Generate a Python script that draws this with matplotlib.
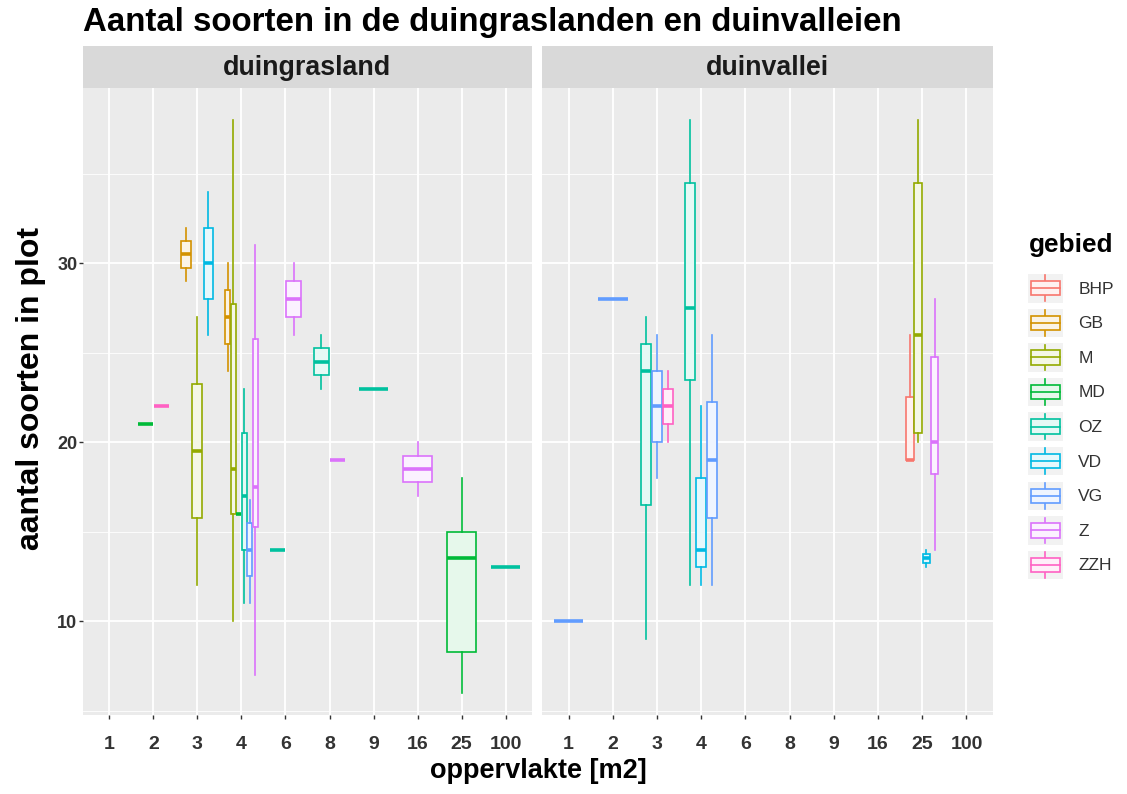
import matplotlib
matplotlib.use("Agg")
import matplotlib.pyplot as plt
from matplotlib.colors import to_rgb
from matplotlib.patches import Patch, Rectangle
from matplotlib.lines import Line2D
from matplotlib.legend_handler import HandlerBase

plt.rcParams['font.family'] = ['Liberation Sans', 'DejaVu Sans']

# factor levels
gebieden = ['BHP', 'GB', 'M', 'MD', 'OZ', 'VD', 'VG', 'Z', 'ZZH']
kleuren = ['#F8766D', '#D39200', '#93AA00', '#00BA38', '#00C19F',
           '#00B9E3', '#619CFF', '#DB72FB', '#FF61C3']
opp_labels = ['1', '2', '3', '4', '6', '8', '9', '16', '25', '100']
panels = ['duingrasland', 'duinvallei']

# one row per box: panel, oppervlakte, gebied + five number summary
panel = ['duingrasland'] * 19 + ['duinvallei'] * 12
opp = ['2', '2', '3', '3', '3', '4', '4', '4', '4', '4', '4', '6', '6', '8', '8', '9', '16', '25', '100',
       '1', '2', '3', '3', '3', '4', '4', '4', '25', '25', '25', '25']
gebied = ['MD', 'ZZH', 'GB', 'M', 'VD', 'GB', 'M', 'MD', 'OZ', 'VG', 'Z', 'OZ', 'Z', 'OZ', 'Z', 'OZ', 'Z', 'MD', 'OZ',
          'VG', 'VG', 'OZ', 'VG', 'ZZH', 'OZ', 'VD', 'VG', 'BHP', 'M', 'VD', 'Z']
ondergrens = [21, 22, 29, 12, 26, 24, 10, 16, 11, 11, 7, 14, 26, 23, 19, 23, 17, 6, 13,
              10, 28, 9, 18, 20, 12, 12, 12, 19, 20, 13, 14]
q1 = [21, 22, 29.75, 15.75, 28, 25.5, 16, 16, 14, 12.5, 15.25, 14, 27, 23.75, 19, 23, 17.75, 8.25, 13,
      10, 28, 16.5, 20, 21, 23.5, 13, 15.75, 19, 20.5, 13.25, 18.25]
mediaan = [21, 22, 30.5, 19.5, 30, 27, 18.5, 16, 17, 14, 17.5, 14, 28, 24.5, 19, 23, 18.5, 13.5, 13,
           10, 28, 24, 22, 22, 27.5, 14, 19, 19, 26, 13.5, 20]
q3 = [21, 22, 31.25, 23.25, 32, 28.5, 27.75, 16, 20.5, 15.5, 25.75, 14, 29, 25.25, 19, 23, 19.25, 15, 13,
      10, 28, 25.5, 24, 23, 34.5, 18, 22.25, 22.5, 34.5, 13.75, 24.75]
bovengrens = [21, 22, 32, 27, 34, 30, 38, 16, 23, 16.75, 31, 14, 30, 26, 19, 23, 20, 18, 13,
              10, 28, 27, 26, 24, 38, 22, 26, 26, 38, 14, 28]

W, H = 1127, 794
fig = plt.figure(figsize=(W / 100, H / 100), dpi=100)
fig.patch.set_facecolor('white')


def licht(c, f=0.1):
    r, g, b = to_rgb(c)
    return (1 - f + f * r, 1 - f + f * g, 1 - f + f * b)


panel_x = {'duingrasland': (83, 449), 'duinvallei': (542, 451)}
axes = {}
for p in panels:
    x0, w = panel_x[p]
    ax = fig.add_axes([x0 / W, (H - 715) / H, w / W, 627 / H])
    ax.set_facecolor('#EBEBEB')
    ax.set_xlim(-0.6, len(opp_labels) - 0.4)
    ax.set_ylim(4.75, 39.8)
    ax.set_yticks([10, 20, 30])
    ax.set_yticks([5, 15, 25, 35], minor=True)
    ax.set_xticks(range(len(opp_labels)))
    ax.set_xticklabels(opp_labels, fontsize=14, fontweight='bold', color='#333333')
    ax.grid(True, which='major', color='white', lw=1.3)
    ax.grid(True, which='minor', axis='y', color='white', lw=0.6)
    ax.set_axisbelow(True)
    for s in ax.spines.values():
        s.set_visible(False)
    ax.tick_params(which='major', length=3, width=1, color='#333333')
    ax.tick_params(axis='x', pad=12)
    ax.tick_params(axis='y', pad=1)
    ax.tick_params(which='minor', length=0)
    if p == 'duingrasland':
        ax.set_yticklabels(['10', '20', '30'], fontsize=13, fontweight='bold', color='#333333')
    else:
        ax.tick_params(axis='y', length=0, labelleft=False)
    axes[p] = ax

    # facet strip
    sx = fig.add_axes([x0 / W, (H - 88) / H, w / W, 42 / H])
    sx.set_facecolor('#D9D9D9')
    sx.set_xticks([])
    sx.set_yticks([])
    for s in sx.spines.values():
        s.set_visible(False)
    sx.text(0.5, 0.47, p, transform=sx.transAxes, ha='center', va='center',
            fontsize=19.3, fontweight='bold', color='#1A1A1A')

# dodge boxes within each x position
for i in range(len(panel)):
    groep = sorted([gebied[j] for j in range(len(panel))
                    if panel[j] == panel[i] and opp[j] == opp[i]], key=gebieden.index)
    n = len(groep)
    k = groep.index(gebied[i])
    slot = 0.75 / n
    pos = opp_labels.index(opp[i]) - 0.375 + (k + 0.5) * slot
    kleur = kleuren[gebieden.index(gebied[i])]
    stats = [dict(whislo=ondergrens[i], q1=q1[i], med=mediaan[i], q3=q3[i],
                  whishi=bovengrens[i], fliers=[])]
    axes[panel[i]].bxp(stats, positions=[pos], widths=[slot * 0.9], patch_artist=True,
                       showcaps=False, manage_ticks=False,
                       boxprops=dict(facecolor=licht(kleur), edgecolor=kleur, lw=1.2),
                       medianprops=dict(color=kleur, lw=2.6, solid_capstyle='butt'),
                       whiskerprops=dict(color=kleur, lw=1.2))

fig.text(83 / W, 1 - 23 / H, 'Aantal soorten in de duingraslanden en duinvalleien',
         fontsize=23.8, fontweight='bold', va='center', ha='left', color='black')
fig.text(538 / W, 1 - 771 / H, 'oppervlakte [m2]', fontsize=19.5, fontweight='bold',
         ha='center', va='center', color='black')
fig.text(31 / W, 1 - 389 / H, 'aantal soorten in plot', fontsize=23, fontweight='bold',
         ha='center', va='center', rotation=90, color='black')


class BoxKey(HandlerBase):
    def create_artists(self, legend, orig, xd, yd, width, height, fontsize, trans):
        c = orig.get_edgecolor()
        x0, y0 = -xd, -yd
        bg = Rectangle((x0, y0), width, height, facecolor='#F2F2F2', edgecolor='none', transform=trans)
        bw = width * 0.85
        bx = x0 + (width - bw) / 2
        box = Rectangle((bx, y0 + height * 0.25), bw, height * 0.5, facecolor=licht(c),
                        edgecolor=c, lw=1.2, transform=trans)
        med = Line2D([bx, bx + bw], [y0 + height * 0.5] * 2, color=c, lw=1.2, transform=trans)
        w1 = Line2D([x0 + width / 2] * 2, [y0 + height * 0.05, y0 + height * 0.25], color=c, lw=1.2, transform=trans)
        w2 = Line2D([x0 + width / 2] * 2, [y0 + height * 0.75, y0 + height * 0.95], color=c, lw=1.2, transform=trans)
        return [bg, w1, w2, box, med]


# legend title as its own text so the gap to the keys can be set
fig.text(1029 / W, 1 - 245 / H, 'gebied', fontsize=18.8, fontweight='bold',
         ha='left', va='center', color='black')
handles = [Patch(edgecolor=c, facecolor='white') for c in kleuren]
leg = fig.legend(handles, gebieden, handler_map={Patch: BoxKey()},
                 loc='upper left', bbox_to_anchor=(1028 / W, 1 - 274 / H),
                 frameon=False, fontsize=12.5, handlelength=2.0, handleheight=2.15,
                 labelspacing=0.35, handletextpad=0.9, borderaxespad=0, borderpad=0)
for t in leg.get_texts():
    t.set_color('#333333')

fig.savefig('out.png', dpi=100)
